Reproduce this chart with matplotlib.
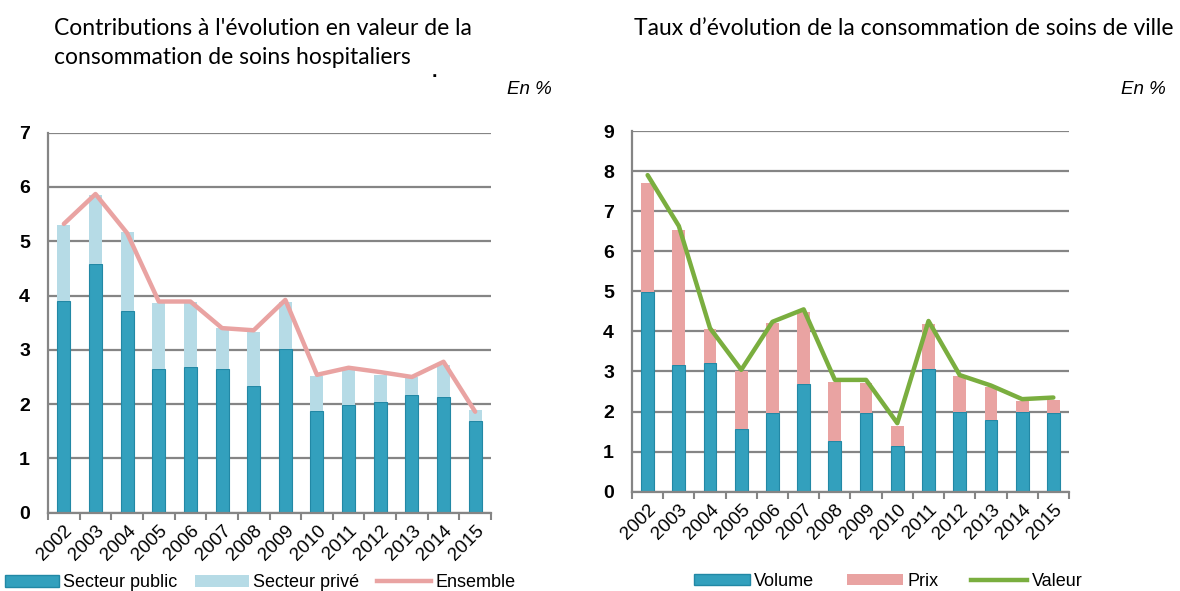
import numpy as np
import matplotlib
matplotlib.use('Agg')
import matplotlib.pyplot as plt
from matplotlib.patches import Patch
from matplotlib.lines import Line2D

plt.rcParams['font.family'] = ['Liberation Sans', 'DejaVu Sans']

years = ['2002', '2003', '2004', '2005', '2006', '2007', '2008',
         '2009', '2010', '2011', '2012', '2013', '2014', '2015']

# Left chart: hospital care, contributions
public = [3.90, 4.58, 3.72, 2.64, 2.68, 2.64, 2.33, 3.01, 1.88, 1.99, 2.03, 2.17, 2.13, 1.68]
hosp_total = [5.30, 5.85, 5.17, 3.87, 3.89, 3.40, 3.33, 3.89, 2.52, 2.63, 2.54, 2.50, 2.72, 1.90]
prive = [t - p for t, p in zip(hosp_total, public)]
ensemble = [5.32, 5.87, 5.15, 3.89, 3.89, 3.40, 3.36, 3.92, 2.54, 2.67, 2.59, 2.50, 2.78, 1.86]

# Right chart: ambulatory care growth rates
volume = [4.99, 3.16, 3.20, 1.56, 1.96, 2.69, 1.27, 1.96, 1.14, 3.06, 1.98, 1.79, 1.98, 1.96]
ville_total = [7.71, 6.53, 4.05, 3.02, 4.20, 4.48, 2.73, 2.72, 1.65, 4.18, 2.89, 2.62, 2.26, 2.30]
prix = [t - v for t, v in zip(ville_total, volume)]
valeur = [7.90, 6.63, 4.08, 3.04, 4.24, 4.55, 2.79, 2.79, 1.71, 4.26, 2.91, 2.65, 2.31, 2.35]

dark_blue = '#33a0bd'
dark_edge = '#2288a5'
light_blue = '#b6dbe6'
pink = '#e9a3a2'
green = '#7aae3f'
grid_col = '#858585'

fig = plt.figure(figsize=(11.8, 5.91), dpi=100)
ax1 = fig.add_axes([0.0407, 0.1325, 0.3754, 0.643])
ax2 = fig.add_axes([0.5356, 0.168, 0.3703, 0.6103])

x = np.arange(len(years))
w = 0.41


def style_axis(ax, ymax):
    ax.set_xlim(-0.5, len(years) - 0.5)
    ax.set_ylim(0, ymax)
    ax.set_yticks(range(ymax + 1))
    ax.yaxis.grid(True, color=grid_col, linewidth=1.6)
    ax.set_axisbelow(True)
    for s in ['top', 'right']:
        ax.spines[s].set_visible(False)
    for s in ['left', 'bottom']:
        ax.spines[s].set_color(grid_col)
        ax.spines[s].set_linewidth(1.6)
    ax.tick_params(axis='y', length=0, pad=13, labelsize=14)
    for lab in ax.get_yticklabels():
        lab.set_fontweight('bold')
    ax.set_xticks(x)
    ax.set_xticklabels(years, rotation=45, ha='right', rotation_mode='anchor',
                       fontsize=13.5)
    ax.tick_params(axis='x', which='major', length=0, pad=7)
    ax.set_xticks(np.arange(-0.5, len(years), 1), minor=True)
    ax.tick_params(axis='x', which='minor', length=5, width=1.5, color=grid_col)


ax1.bar(x, public, w, color=dark_blue, edgecolor=dark_edge, linewidth=0.8)
ax1.bar(x, prive, w, bottom=public, color=light_blue, linewidth=0)
ax1.plot(x, ensemble, color=pink, linewidth=3.2, solid_capstyle='round')
style_axis(ax1, 7)

ax2.bar(x, volume, w, color=dark_blue, edgecolor=dark_edge, linewidth=0.8)
ax2.bar(x, prix, w, bottom=volume, color=pink, linewidth=0)
ax2.plot(x, valeur, color=green, linewidth=3.2, solid_capstyle='round')
style_axis(ax2, 9)

# titles
title_font = ['Lato', 'DejaVu Sans']
fig.text(0.046, 0.952, "Contributions à l'évolution en valeur de la", fontsize=16.5,
         family=title_font, va='center')
fig.text(0.046, 0.903, "consommation de soins hospitaliers", fontsize=16.5,
         family=title_font, va='center')
fig.text(0.366, 0.877, '.', fontsize=14, fontweight='bold', va='center')
fig.text(0.468, 0.848, 'En %', fontsize=13.5, style='italic', ha='right', va='center')

fig.text(0.537, 0.952, "Taux d’évolution de la consommation de soins de ville", fontsize=16.5,
         family=title_font, va='center')
fig.text(0.988, 0.848, 'En %', fontsize=13.5, style='italic', ha='right', va='center')

# legends
h1 = [Patch(facecolor=dark_blue, edgecolor=dark_edge), Patch(facecolor=light_blue),
      Line2D([0], [0], color=pink, linewidth=3.2)]
fig.legend(h1, ['Secteur public', 'Secteur privé', 'Ensemble'], loc='center left',
           bbox_to_anchor=(0.004, 0.014), ncol=3, frameon=False, fontsize=13,
           handlelength=3.0, handleheight=0.6, handletextpad=0.25, columnspacing=0.95,
           borderaxespad=0, borderpad=0)

h2 = [Patch(facecolor=dark_blue, edgecolor=dark_edge), Patch(facecolor=pink),
      Line2D([0], [0], color=green, linewidth=3.2)]
fig.legend(h2, ['Volume', 'Prix', 'Valeur'], loc='center left',
           bbox_to_anchor=(0.588, 0.016), ncol=3, frameon=False, fontsize=13,
           handlelength=3.1, handleheight=0.6, handletextpad=0.25, columnspacing=1.8,
           borderaxespad=0, borderpad=0)

fig.savefig('out.png', dpi=100)
